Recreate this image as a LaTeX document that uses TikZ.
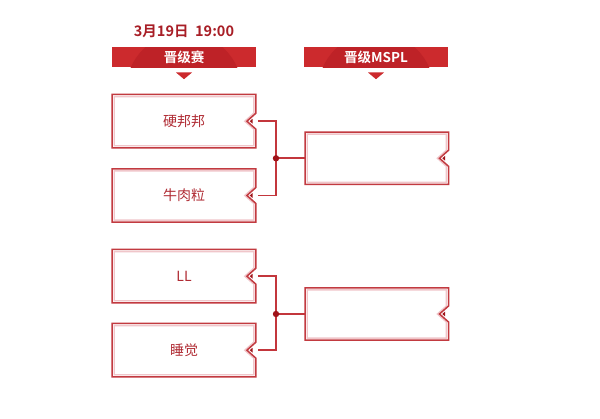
\documentclass[tikz,border=0pt]{standalone}
\usepackage{fontspec}
\newfontfamily\cjk{Noto Sans CJK SC}
\newfontfamily\cjkb{Noto Sans CJK SC Bold}
\usetikzlibrary{calc}
\definecolor{bannerred}{HTML}{CC2A2D}
\definecolor{domered}{HTML}{BE2227}
\definecolor{datered}{HTML}{A81E26}
\definecolor{boxdark}{HTML}{C23A40}
\definecolor{boxlight}{HTML}{F0C6CA}
\definecolor{textred}{HTML}{B02C34}
\definecolor{connred}{HTML}{C3363C}
\definecolor{dotred}{HTML}{A0141A}
\tikzset{
  teambox/.style={minimum width=143.4pt, minimum height=53pt, inner sep=0pt, font=\cjk\fontsize{14}{16}\selectfont, text=textred},
  resbox/.style={minimum width=143pt, minimum height=52pt, inner sep=0pt},
  banner/.style={minimum width=143.5pt, minimum height=20pt, inner sep=0pt, font=\cjkb\fontsize{13.5}{15}\selectfont, text=white},
  darkline/.style={draw=boxdark, line width=1.5pt},
  lightline/.style={draw=boxlight, line width=1.4pt},
  conn/.style={draw=connred, line width=1.7pt},
}
\newcommand\myteamframe[1]{%
  \draw[lightline] ([shift={(2.1pt,-2.1pt)}]#1.north west) -- ([shift={(-2.1pt,-2.1pt)}]#1.north east)
     -- ([shift={(-2.1pt,8pt)}]#1.east) -- ([shift={(-11.1pt,0pt)}]#1.east) -- ([shift={(-2.1pt,-8pt)}]#1.east)
     -- ([shift={(-2.1pt,2.1pt)}]#1.south east) -- ([shift={(2.1pt,2.1pt)}]#1.south west) -- cycle;
  \draw[darkline] (#1.north west) -- (#1.north east) -- ([yshift=8pt]#1.east) -- ([xshift=-9pt]#1.east)
     -- ([yshift=-8pt]#1.east) -- (#1.south east) -- (#1.south west) -- cycle;
  \fill[dotred] ([xshift=-6.2pt]#1.east) -- ([shift={(-3.4pt,2.4pt)}]#1.east) -- ([shift={(-3.4pt,-2.4pt)}]#1.east) -- cycle;
}
\newcommand\mybannerdraw[1]{%
  \fill[bannerred] (#1.north west) rectangle (#1.south east);
  \begin{scope}
    \clip (#1.north west) rectangle (#1.south east);
    \fill[domered] ([yshift=-23pt]#1.south) circle (58pt);
  \end{scope}
  \fill[bannerred] ([shift={(-8pt,-5pt)}]#1.south) -- ([shift={(8pt,-5pt)}]#1.south) -- ([yshift=-11.7pt]#1.south) -- cycle;
}
\begin{document}
\begin{tikzpicture}[x=1pt,y=-1pt]
\useasboundingbox (0,0) rectangle (600,419);
\fill[white] (0,0) rectangle (600,419);

% headers
\node[banner] (h1) at (184,57.3) {};
\node[banner] (h2) at (376,57.3) {};
\mybannerdraw{h1}
\mybannerdraw{h2}
\node[banner] (t1) at (h1) {晋级赛};
\node[banner] (t2) at (h2) {晋级MSPL};
\node[font=\cjkb\fontsize{14.5}{16}\selectfont, text=datered, inner sep=0pt] (date) at (184,31) {3月19日\ \ 19:00};

% team boxes
\node[teambox] (b1) at (184,121.2) {硬邦邦};
\node[teambox] (b2) at (184,195.5) {牛肉粒};
\node[teambox] (b3) at (184,276.2) {LL};
\node[teambox] (b4) at (184,350.2) {睡觉};
\node[resbox] (r1) at (376.8,158.3) {};
\node[resbox] (r2) at (376.8,314) {};
\myteamframe{b1}
\myteamframe{b2}
\myteamframe{b3}
\myteamframe{b4}
\myteamframe{r1}
\myteamframe{r2}

% connectors
\coordinate (j1) at (276,158.3);
\coordinate (j2) at (276,314);
\draw[conn] ([xshift=2pt]b1.east) -| (j1) |- ([xshift=2pt]b2.east);
\draw[conn] (j1) -- (r1.west);
\draw[conn] ([xshift=2pt]b3.east) -| (j2) |- ([xshift=2pt]b4.east);
\draw[conn] (j2) -- (r2.west);
\fill[dotred] (j1) circle (3.2);
\fill[dotred] (j2) circle (3.2);
\end{tikzpicture}
\end{document}
